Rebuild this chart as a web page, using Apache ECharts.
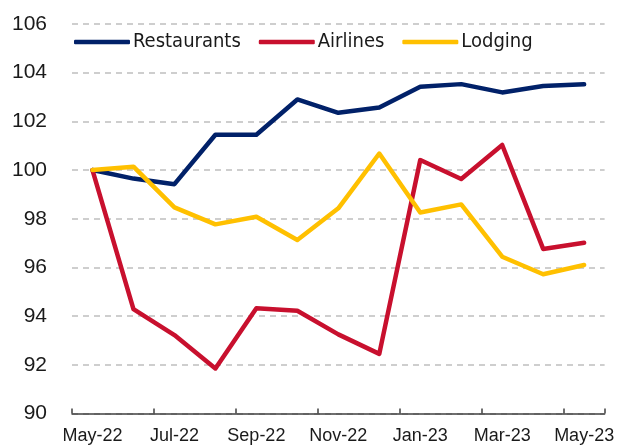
<!DOCTYPE html>
<html><head><meta charset="utf-8">
<script src="https://cdn.jsdelivr.net/npm/echarts@6/dist/echarts.min.js"></script>
<style>html,body{margin:0;padding:0;background:#fff}#c{width:617px;height:447px}</style>
</head><body><div id="c"></div>
<script>
const categories = ['May-22','Jun-22','Jul-22','Aug-22','Sep-22','Oct-22','Nov-22','Dec-22','Jan-23','Feb-23','Mar-23','Apr-23','May-23'];
const restaurants = [100, 99.65, 99.42, 101.45, 101.45, 102.9, 102.35, 102.57, 103.42, 103.53, 103.19, 103.45, 103.52];
const airlines = [100, 94.29, 93.22, 91.85, 94.32, 94.22, 93.25, 92.45, 100.41, 99.63, 101.03, 96.76, 97.01];
const lodging = [100, 100.14, 98.47, 97.77, 98.08, 97.13, 98.43, 100.68, 98.26, 98.59, 96.44, 95.72, 96.1];
const yTicks = {min: 90, max: 106, interval: 2};

const chart = echarts.init(document.getElementById('c'), null, {renderer: 'canvas'});
const cond = "'DejaVu Sans Condensed', 'DejaVu Sans', sans-serif";
const lib = "'Liberation Sans', Arial, sans-serif";
const mk = (name, data, color) => ({
  name, type: 'line', data, symbol: 'none', smooth: false,
  lineStyle: {color, width: 4.5, cap: 'round', join: 'round'}, itemStyle: {color},
  animation: false
});
chart.setOption({
  animation: false,
  grid: {left: 72, right: 8.5, top: 24, bottom: 33.5, containLabel: false},
  legend: {
    top: 32, left: 74, padding: 0, icon: 'roundRect', itemWidth: 56, itemHeight: 4.5, itemGap: 18,
    textStyle: {fontFamily: cond, fontSize: 20, color: '#1a1a1a', padding: [0,0,0,-2]},
    data: ['Restaurants','Airlines','Lodging']
  },
  xAxis: {
    type: 'category', data: categories, boundaryGap: true,
    axisLine: {lineStyle: {color: '#404040', width: 1.5}},
    axisTick: {show: true, inside: true, length: 5, interval: 1, lineStyle: {color: '#404040', width: 1.5}},
    axisLabel: {interval: 1, margin: 14, fontFamily: lib, fontSize: 18, color: '#1a1a1a'},
    splitLine: {show: false}
  },
  yAxis: {
    type: 'value', min: yTicks.min, max: yTicks.max, interval: yTicks.interval,
    axisLine: {show: false}, axisTick: {show: false},
    axisLabel: {margin: 25, fontFamily: lib, fontSize: 21, color: '#1a1a1a'},
    splitLine: {show: true, lineStyle: {color: '#bfbfbf', width: 1.5, type: [6,5]}}
  },
  series: [
    mk('Restaurants', restaurants, '#012169'),
    mk('Airlines', airlines, '#c8102e'),
    mk('Lodging', lodging, '#ffc000')
  ]
});
</script></body></html>
